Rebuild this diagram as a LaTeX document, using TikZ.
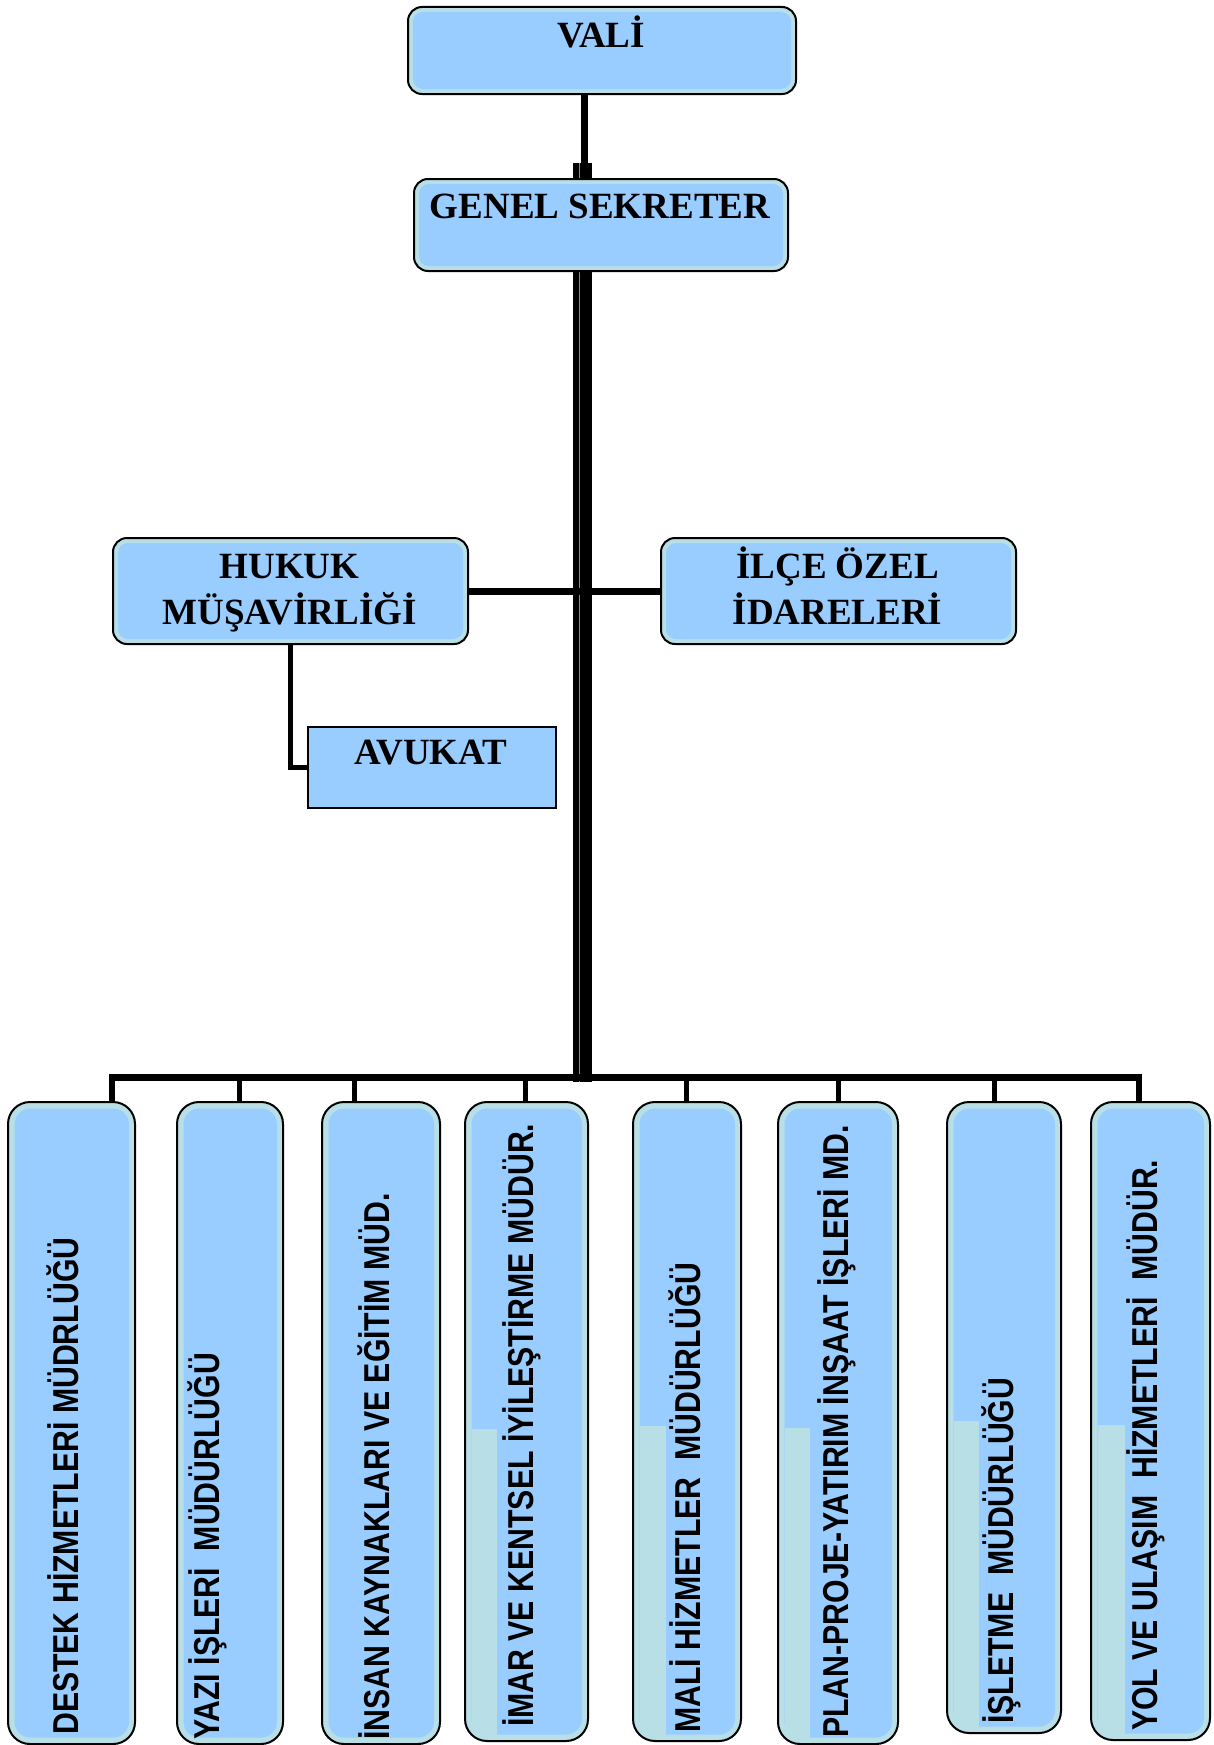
\documentclass[tikz,border=0pt]{standalone}
\usepackage{fontspec}
\usepackage{graphicx}
\setmainfont{Liberation Serif}
\newfontfamily\vsans{Liberation Sans}
\definecolor{boxblue}{RGB}{153,204,255}
\definecolor{boxteal}{RGB}{184,222,230}
\begin{document}
\begin{tikzpicture}[x=1pt,y=1pt,
  roundbox/.style={draw=black, line width=2pt, fill=boxteal, rounded corners=14pt, inner sep=0pt, anchor=north west,
    path picture={\fill[boxblue, rounded corners=10pt] ([shift={(5pt,-5pt)}]path picture bounding box.north west) rectangle ([shift={(-5pt,5pt)}]path picture bounding box.south east);}},
  unitbox/.style 2 args={draw=black, line width=2pt, fill=boxteal, rounded corners=22pt, inner sep=0pt, anchor=north west,
    path picture={\fill[boxblue, rounded corners=16pt] ([shift={(6.5pt,-6.5pt)}]path picture bounding box.north west) rectangle ([shift={(-6pt,6.5pt)}]path picture bounding box.south east);
      \fill[boxteal, sharp corners] ([shift={(6.5pt,6.5pt)}]path picture bounding box.south west) rectangle ([shift={(#1pt,#2pt)}]path picture bounding box.south west);}},
  avbox/.style={draw=black, line width=1.5pt, fill=boxblue, inner sep=0pt, anchor=north west},
  ttext/.style={font=\bfseries\fontsize{37pt}{46pt}\selectfont, inner sep=0pt, anchor=base},
  vtext/.style={font=\vsans\bfseries\fontsize{36pt}{40pt}\selectfont, inner sep=0pt, anchor=base west, rotate=90},
  conn/.style={draw=black, line width=7pt},
  dropline/.style={draw=black, line width=5pt},
  trunkline/.style={draw=black, line width=19pt}
]
\useasboundingbox (0,0) rectangle (1213,-1745);

% trunk (behind the Genel Sekreter box)
\coordinate (trk) at (582.5,-163);
\coordinate (trb) at (582.5,-1082);
\draw[trunkline] (trk) -- (trb);
\draw[black!45, line width=1pt] ([xshift=-3.5pt]trk) -- ([xshift=-3.5pt]trb);

% top boxes
\node[roundbox, minimum width=388pt, minimum height=87pt] (vali) at (407,-6) {};
\node[roundbox, minimum width=374pt, minimum height=92pt] (gs) at (413,-178) {};
\node[roundbox, minimum width=355pt, minimum height=106pt] (hukuk) at (112,-537) {};
\node[roundbox, minimum width=355pt, minimum height=106pt] (ilce) at (660,-537) {};
\node[avbox, minimum width=248pt, minimum height=81pt] (avukat) at (307,-726) {};

\node[ttext] (valit) at (601,-48) {VALİ};
\node[ttext] (gst) at (600,-218) {GENEL SEKRETER};
\node[ttext] (hukukt) at (289.5,-578) {\begin{tabular}[t]{@{}c@{}}HUKUK\\MÜŞAVİRLİĞİ\end{tabular}};
\node[ttext] (ilcet) at (837.5,-578) {\begin{tabular}[t]{@{}c@{}}İLÇE ÖZEL\\İDARELERİ\end{tabular}};
\node[ttext] (avukatt) at (431,-764) {AVUKAT};

% bottom boxes
\node[unitbox={6.5}{6.5}, minimum width=127pt, minimum height=642pt] (b1) at (7,-1101) {};
\node[unitbox={6.5}{6.5}, minimum width=106pt, minimum height=642pt] (b2) at (176,-1101) {};
\node[unitbox={6.5}{6.5}, minimum width=118pt, minimum height=642pt] (b3) at (321,-1101) {};
\node[unitbox={32}{312}, minimum width=123pt, minimum height=639pt] (b4) at (464,-1101) {};
\node[unitbox={33}{315}, minimum width=108pt, minimum height=639pt] (b5) at (632,-1101) {};
\node[unitbox={32}{316}, minimum width=120pt, minimum height=642pt] (b6) at (777,-1101) {};
\node[unitbox={32}{312}, minimum width=114pt, minimum height=631pt] (b7) at (946,-1101) {};
\node[unitbox={34}{315}, minimum width=119pt, minimum height=638pt] (b8) at (1090,-1101) {};

\node[vtext] (t1) at (78,-1735) {\scalebox{0.84}[1]{DESTEK HİZMETLERİ MÜDRLÜĞÜ}};
\node[vtext] (t2) at (219,-1740) {\scalebox{0.84}[1]{YAZI İŞLERİ~~MÜDÜRLÜĞÜ}};
\node[vtext] (t3) at (389,-1740) {\scalebox{0.84}[1]{İNSAN KAYNAKLARI VE EĞİTİM MÜD.}};
\node[vtext] (t4) at (533,-1727) {\scalebox{0.84}[1]{İMAR VE KENTSEL İYİLEŞTİRME MÜDÜR.}};
\node[vtext] (t5) at (700,-1733) {\scalebox{0.84}[1]{MALİ HİZMETLER~~MÜDÜRLÜĞÜ}};
\node[vtext] (t6) at (848,-1738) {\scalebox{0.84}[1]{PLAN-PROJE-YATIRIM İNŞAAT İŞLERİ MD.}};
\node[vtext] (t7) at (1013,-1724) {\scalebox{0.84}[1]{İŞLETME~~MÜDÜRLÜĞÜ}};
\node[vtext] (t8) at (1157,-1731) {\scalebox{0.84}[1]{YOL VE ULAŞIM~~HİZMETLERİ~~MÜDÜR.}};

% connectors
\coordinate (vx) at (584,0);
\draw[conn] (vali.south -| vx) -- (gs.north -| vx);
\draw[conn] (hukuk.east) -- (ilce.west);
\draw[dropline] (hukuk.south) |- (avukat.west);

\coordinate (d1) at (112,-1077.5);
\coordinate (d2) at (239,-1077.5);
\coordinate (d3) at (354,-1077.5);
\coordinate (d4) at (525.5,-1077.5);
\coordinate (d5) at (686,-1077.5);
\coordinate (d6) at (838,-1077.5);
\coordinate (d7) at (994,-1077.5);
\coordinate (d8) at (1139,-1077.5);
\draw[conn, line width=6.5pt, line join=miter] (d1 |- b1.north) -- (d1) -- (d8) -- (d8 |- b8.north);
\draw[dropline] (d2) -- (d2 |- b2.north);
\draw[dropline] (d3) -- (d3 |- b3.north);
\draw[dropline] (d4) -- (d4 |- b4.north);
\draw[dropline] (d5) -- (d5 |- b5.north);
\draw[dropline] (d6) -- (d6 |- b6.north);
\draw[dropline] (d7) -- (d7 |- b7.north);
\end{tikzpicture}
\end{document}
